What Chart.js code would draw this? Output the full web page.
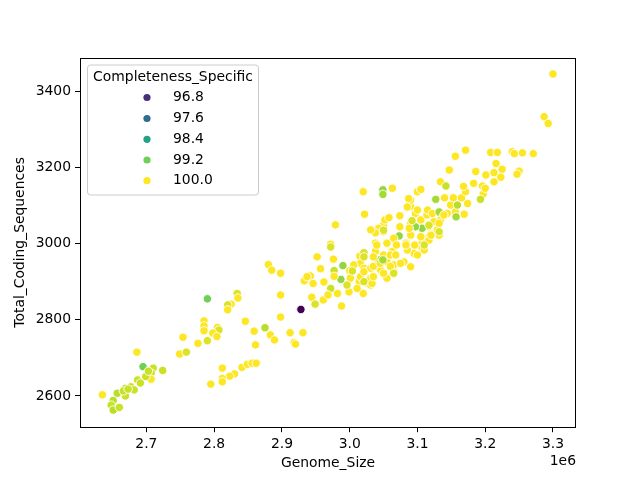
<!DOCTYPE html>
<html><head><meta charset="utf-8">
<script src="https://cdn.jsdelivr.net/npm/chart.js@4.4.0/dist/chart.umd.min.js"></script>
<style>html,body{margin:0;padding:0;background:#fff}#wrap{width:640px;height:480px;position:relative}</style>
</head><body><div id="wrap"><canvas id="c" width="640" height="480"></canvas></div>
<script>
// Genome_Size in units of 1e6
const genomeSize = [
 2.635,2.686,2.695,2.710,2.724,2.707,2.707,2.699,2.687,2.677,
 2.669,2.682,2.657,2.669,2.651,2.648,2.651,2.660,2.666,2.703,
 2.691,2.673,
 2.880,2.885,2.898,2.898,2.790,2.834,2.835,2.825,2.820,2.820,
 2.928,2.898,2.846,2.785,2.785,2.785,2.805,2.807,2.798,2.804,
 2.859,2.875,2.883,2.889,2.912,2.918,2.931,2.754,2.776,2.790,
 2.861,2.749,2.759,2.812,2.841,2.849,2.856,2.862,2.830,2.823,
 2.812,2.795,2.812,2.920,
 3.020,3.022,2.979,2.972,2.972,2.952,2.976,2.990,2.977,2.957,
 3.000,3.015,2.933,2.942,2.946,2.962,2.987,2.977,2.972,2.944,
 2.961,2.949,2.968,2.988,2.982,3.016,3.014,3.020,2.999,3.026,
 3.055,3.074,3.050,3.043,3.038,3.050,3.074,3.090,3.097,3.090,
 3.073,3.090,3.083,3.038,3.055,3.063,3.038,3.021,3.050,3.043,
 3.055,3.080,3.095,3.006,3.021,3.031,3.046,3.065,3.001,3.016,
 3.031,3.055,2.996,3.011,3.031,3.050,3.065,3.035,3.060,3.085,
 3.100,3.075,3.090,3.107,3.117,3.065,3.132,3.052,3.031,3.105,
 3.117,3.134,3.107,3.129,3.049,3.049,3.063,3.090,3.100,3.127,
 3.035,3.060,3.069,3.096,3.107,3.117,3.068,3.110,3.124,3.132,
 3.114,3.115,3.122,3.132,3.144,3.156,3.169,3.157,3.149,3.159,
 3.174,3.140,3.153,3.165,3.171,3.197,3.193,3.087,3.100,3.105,
 3.134,3.142,3.147,3.156,3.171,3.208,3.218,3.240,3.243,3.255,
 3.271,3.216,3.186,3.201,3.213,3.213,3.225,3.250,3.247,3.223,
 3.168,3.183,3.196,3.200,3.287,3.293,3.300,3.097,3.105,3.120,
 3.004,2.937,3.021,3.033,3.092,3.058,3.040,3.110,3.139,3.132,
 3.085,3.083,3.021,3.045,3.065,3.035,3.021,3.049,3.088,3.050,
 3.117
];
const totalCDS = [
 2603,2715,2677,2673,2667,2660,2644,2651,2642,2624,
 2620,2616,2607,2600,2588,2576,2563,2570,2613,2665,
 2634,2618,
 2945,2930,2922,2865,2855,2869,2857,2841,2839,2826,
 2827,2807,2796,2797,2784,2771,2780,2773,2765,2756,
 2770,2779,2760,2747,2766,2740,2766,2754,2738,2745,
 2734,2710,2715,2673,2675,2683,2686,2686,2658,2652,
 2646,2631,2637,2736,
 3136,3077,3049,2998,2991,2965,2959,2942,2929,2934,
 2929,2967,2902,2915,2895,2899,2906,2914,2882,2859,
 2852,2841,2865,2836,2869,2948,2900,2869,2873,2896,
 3066,3073,3049,3040,3028,3031,3044,3097,3079,3053,
 3020,3022,3001,3001,3001,2979,2979,2976,2970,2957,
 2952,2952,2974,2944,2935,2935,2930,2926,2909,2913,
 2909,2909,2891,2882,2891,2922,2944,2965,2970,2983,
 2970,2948,2939,2988,3018,3014,3022,3062,3036,3062,
 3044,3062,3040,3035,3141,3129,3145,3114,3088,3116,
 2940,2940,2996,2996,3005,3009,2970,2983,3057,3053,
 3075,3088,3079,3083,3079,3083,3077,3070,3101,3101,
 3105,3120,3120,3120,3136,3130,3116,3118,3136,3142,
 3162,3151,3193,3229,3245,3239,3239,3241,3236,3238,
 3236,3210,3189,3180,3162,3186,3195,3190,3182,3174,
 3150,3158,3151,3145,3333,3315,3445,3044,3018,3022,
 2928,2913,2900,2895,3060,3068,2996,2996,3075,3031,
 3096,2996,2965,2948,2922,2913,2926,2957,3040,3035,
 3048
];
const completeness = [
 100,100,99.2,99.7,99.7,99.7,100,99.7,99.7,99.7,
 99.6,99.7,99.6,99.7,99.6,99.7,99.6,99.7,99.7,99.7,
 99.7,99.7,
 100,100,100,100,99.2,99.8,100,100,99.8,100,
 96.3,100,100,100,100,100,100,99.8,100,100,
 100,99.6,100,100,100,100,100,100,100,99.8,
 100,100,99.8,100,100,100,100,100,100,100,
 100,100,100,100,
 100,100,100,100,99.8,100,100,99.4,99.7,100,
 100,100,100,100,100,100,99.4,100,99.7,100,
 100,99.8,100,100,100,100,100,100,100,100,
 100,100,100,100,100,100,100,100,100,100,
 99.4,100,100,100,100,100,100,99.8,100,99.5,
 100,100,100,100,100,100,100,100,100,100,
 100,100,99.8,100,100,100,100,100,100,100,
 100,100,100,100,100,100,100,100,100,100,
 100,100,99.4,100,99.4,99.5,100,100,100,99.5,
 100,100,100,100,100,100,100,100,100,100,
 100,100,100,99.5,100,100,100,99.5,100,99.6,
 100,100,100,100,100,100,99.7,100,100,100,
 100,99.7,100,100,100,100,100,100,100,100,
 100,100,100,100,100,100,100,100,100,100,
 100,100,100,100,100,100,100,99.4,100,100,
 99.8,100,99.8,100,99.8,100,100,99.8,100,99.8,
 100,100,99.8,100,99.8,100,100,99.5,100,99.8,
 99.8
];
const xTicks = [2.7, 2.8, 2.9, 3.0, 3.1, 3.2, 3.3];
const yTicks = [2600, 2800, 3000, 3200, 3400];
const legendLevels = [96.8, 97.6, 98.4, 99.2, 100.0];
const hueRange = [96.3, 100.0];

const VIRIDIS = ['#440154','#482475','#414487','#355f8d','#2a788e','#21918c','#22a884','#44bf70','#7ad151','#bddf26','#fde725'];
function hex2rgb(h){return [parseInt(h.slice(1,3),16),parseInt(h.slice(3,5),16),parseInt(h.slice(5,7),16)];}
function viridis(t){
  t=Math.max(0,Math.min(1,t));
  const p=t*10, i=Math.min(9,Math.floor(p)), f=p-i;
  const a=hex2rgb(VIRIDIS[i]), b=hex2rgb(VIRIDIS[i+1]);
  return 'rgb('+a.map((v,k)=>Math.round(v+(b[k]-v)*f)).join(',')+')';
}
function hueColor(v){return viridis((v-hueRange[0])/(hueRange[1]-hueRange[0]));}

const FONT = "'DejaVu Sans', sans-serif";
const pts = genomeSize.map((g,i)=>({x:g, y:totalCDS[i]}));
const colors = completeness.map(hueColor);

const decor = {
  id:'decor',
  afterDraw(chart){
    const {ctx, chartArea:a} = chart;
    ctx.save();
    ctx.strokeStyle='#000'; ctx.lineWidth=1;
    ctx.strokeRect(Math.round(a.left)+0.5, Math.round(a.top)+0.5, Math.round(a.right-a.left)-1, Math.round(a.bottom-a.top)-1);
    ctx.fillStyle='#000';
    ctx.font='13.9px '+FONT;
    ctx.textAlign='center'; ctx.textBaseline='middle';
    ctx.fillText('Genome_Size', (a.left+a.right)/2, 463);
    ctx.save();
    ctx.translate(20,(a.top+a.bottom)/2);
    ctx.rotate(-Math.PI/2);
    ctx.fillText('Total_Coding_Sequences',0,0);
    ctx.restore();
    ctx.textAlign='right';
    ctx.fillText('1e6', a.right, 461);
    // legend
    const bx=87.5, by=65, bw=171, bh=130, r=3;
    ctx.beginPath();
    ctx.moveTo(bx+r,by); ctx.lineTo(bx+bw-r,by); ctx.quadraticCurveTo(bx+bw,by,bx+bw,by+r);
    ctx.lineTo(bx+bw,by+bh-r); ctx.quadraticCurveTo(bx+bw,by+bh,bx+bw-r,by+bh);
    ctx.lineTo(bx+r,by+bh); ctx.quadraticCurveTo(bx,by+bh,bx,by+bh-r);
    ctx.lineTo(bx,by+r); ctx.quadraticCurveTo(bx,by,bx+r,by); ctx.closePath();
    ctx.fillStyle='rgba(255,255,255,0.8)'; ctx.fill();
    ctx.strokeStyle='#cccccc'; ctx.lineWidth=1; ctx.stroke();
    ctx.fillStyle='#000'; ctx.textAlign='center'; ctx.textBaseline='middle';
    ctx.fillText('Completeness_Specific', bx+bw/2, 77);
    const rows=[97.5,118.5,139.3,160,180.7];
    legendLevels.forEach((v,i)=>{
      ctx.beginPath(); ctx.arc(147, rows[i], 3.6, 0, Math.PI*2);
      ctx.fillStyle=hueColor(v); ctx.fill();
      ctx.fillStyle='#000'; ctx.textAlign='left';
      ctx.fillText(v.toFixed(1), 173, rows[i]);
    });
    ctx.restore();
  }
};

new Chart(document.getElementById('c'), {
  type:'scatter',
  data:{datasets:[{
    data: pts,
    pointRadius: 4.2,
    pointHoverRadius: 4.2,
    pointBackgroundColor: colors,
    pointBorderColor: '#ffffff',
    pointBorderWidth: 0.9
  }]},
  options:{
    responsive:false, animation:false, devicePixelRatio:1,
    layout:{padding:{left:0,right:64,top:57.6,bottom:0}},
    plugins:{legend:{display:false}, tooltip:{enabled:false}},
    scales:{
      x:{
        type:'linear', min:2.602, max:3.334,
        afterBuildTicks(s){ s.ticks = xTicks.map(v=>({value:v})); },
        afterFit(s){ s.height = 52.8; },
        ticks:{ callback:v=>v.toFixed(1), color:'#000', font:{family:FONT, size:13.9}, padding:4, maxRotation:0, autoSkip:false },
        grid:{ display:true, drawOnChartArea:false, drawTicks:true, tickLength:5, color:'#000', lineWidth:1 },
        border:{ display:false }
      },
      y:{
        type:'linear', min:2518, max:3488,
        afterBuildTicks(s){ s.ticks = yTicks.map(v=>({value:v})); },
        afterFit(s){ s.width = 80; },
        ticks:{ callback:v=>String(v), color:'#000', font:{family:FONT, size:13.9}, padding:4, autoSkip:false },
        grid:{ display:true, drawOnChartArea:false, drawTicks:true, tickLength:5, color:'#000', lineWidth:1 },
        border:{ display:false }
      }
    }
  },
  plugins:[decor]
});
</script>
</body></html>
